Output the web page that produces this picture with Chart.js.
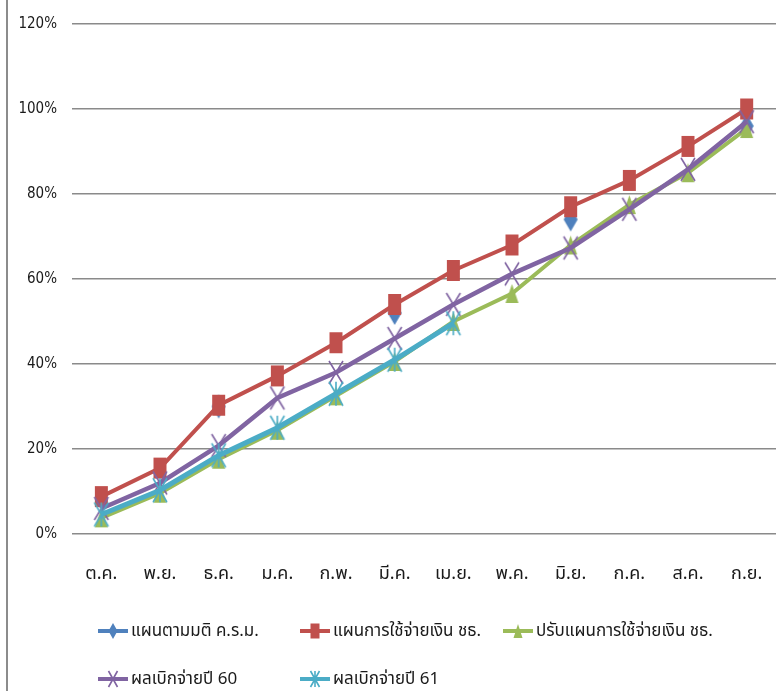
<!DOCTYPE html>
<html><head><meta charset="utf-8">
<script src="https://cdn.jsdelivr.net/npm/chart.js@4"></script>
<style>
html,body{margin:0;padding:0;background:#fff;}
#wrap{position:relative;width:776px;height:691px;overflow:hidden;background:#fff;}
#frame{position:absolute;left:6px;top:0;width:0;height:691px;border-left:2px solid #8c8c8c;}
#c{position:absolute;left:0;top:0;}
.leg{position:absolute;display:flex;align-items:center;height:30px;white-space:nowrap;
 font-family:"Noto Sans Thai","Loma","Garuda","Tlwg Typo","Liberation Sans Narrow","DejaVu Sans Condensed",sans-serif;
 font-size:17px;color:#1a1a1a;}
.leg canvas{margin-right:3px;}
</style></head>
<body><div id="wrap"><canvas id="c" width="776" height="691"></canvas><div id="frame"></div><div id="legend"></div></div>
<script>
// ---- data ----
const months = ['ต.ค.','พ.ย.','ธ.ค.','ม.ค.','ก.พ.','มี.ค.','เม.ย.','พ.ค.','มิ.ย.','ก.ค.','ส.ค.','ก.ย.'];
const yTickValues = [0,20,40,60,80,100,120];
const seriesNames = ['แผนตามมติ ค.ร.ม.','แผนการใช้จ่ายเงิน ชธ.','ปรับแผนการใช้จ่ายเงิน ชธ.','ผลเบิกจ่ายปี 60','ผลเบิกจ่ายปี 61'];
const planCabinet  = [null,null,30,null,null,52,null,null,74,null,null,96];
const planSpending = [8.8,15.5,30.3,37.2,45,54,62,68,77,83.2,91.2,100];
const revisedPlan  = [3.8,9.6,17.6,24.4,32.5,40.6,50,56.6,68,77.5,85,95.4];
const actual60     = [6,12,20.8,32,38,46,54,61.2,67.3,76.4,85.8,97];
const actual61     = [4.6,10.3,18.5,25,33,41,49.6,null,null,null,null,null];

// ---- styles ----
const colors = ['#4F81BD','#C0504D','#9BBB59','#8064A2','#4BACC6'];
const markerKinds = ['diamond','rect','tri','x','star'];
const markerSizes = [[14,24],[13,21],[13,19],[14,23],[14,24]];
const lineWidths = [4,4,4,4.5,5];
const legendMarkerSizes = [[9,16],[9,15],[9,14],[9,16],[9,16]];

function drawMarker(g, kind, cx, cy, w, h, color){
  g.fillStyle = color; g.strokeStyle = color; g.lineWidth = 1.6;
  g.beginPath();
  if(kind==='diamond'){g.moveTo(cx,cy-h/2);g.lineTo(cx+w/2,cy);g.lineTo(cx,cy+h/2);g.lineTo(cx-w/2,cy);g.closePath();g.fill();}
  else if(kind==='rect'){g.fillRect(cx-w/2,cy-h/2,w,h);}
  else if(kind==='tri'){g.moveTo(cx,cy-h/2);g.lineTo(cx+w/2,cy+h/2);g.lineTo(cx-w/2,cy+h/2);g.closePath();g.fill();}
  else if(kind==='x'){g.moveTo(cx-w/2,cy-h/2);g.lineTo(cx+w/2,cy+h/2);g.moveTo(cx+w/2,cy-h/2);g.lineTo(cx-w/2,cy+h/2);g.stroke();}
  else if(kind==='star'){g.moveTo(cx-w/2,cy-h/2);g.lineTo(cx+w/2,cy+h/2);g.moveTo(cx+w/2,cy-h/2);g.lineTo(cx-w/2,cy+h/2);
    g.moveTo(cx,cy-h/2);g.lineTo(cx,cy+h/2);g.stroke();}
}
function markerCanvas(i){
  const [w,h] = markerSizes[i];
  const c = document.createElement('canvas'); c.width = w+4; c.height = h+4;
  drawMarker(c.getContext('2d'), markerKinds[i], c.width/2, c.height/2, w, h, colors[i]);
  return c;
}

const seriesData = [planCabinet, planSpending, revisedPlan, actual60, actual61];
const datasets = seriesData.map((d,i)=>({
  label: seriesNames[i], data: d,
  borderColor: colors[i], backgroundColor: colors[i],
  borderWidth: lineWidths[i], tension: 0, spanGaps: false,
  pointStyle: markerCanvas(i), pointRadius: 8, pointHoverRadius: 8,
  order: 5 - i
}));

const fontThai = '"Noto Sans Thai","Loma","Garuda","Tlwg Typo","Liberation Sans Narrow","DejaVu Sans Condensed",sans-serif';
const fontNum = '"Liberation Sans Narrow","DejaVu Sans Condensed",sans-serif';

new Chart(document.getElementById('c'), {
  type: 'line',
  data: { labels: months, datasets },
  options: {
    responsive: false, animation: false, devicePixelRatio: 1,
    layout: { autoPadding: false, padding: { top: 22, left: 0, right: 0, bottom: 97 } },
    plugins: { legend: { display: false }, tooltip: { enabled: false } },
    scales: {
      x: {
        offset: true,
        grid: { display: false, drawTicks: false },
        border: { display: false },
        ticks: { color: '#1a1a1a', padding: 31, font: { family: fontThai, size: 18 }, maxRotation: 0, autoSkip: false },
        afterFit(s){ s.height = 60; s.paddingLeft = 0; s.paddingRight = 0; }
      },
      y: {
        min: 0, max: 120,
        afterBuildTicks(s){ s.ticks = yTickValues.map(v=>({value:v})); },
        grid: { color: '#8a8a8a', lineWidth: 1.5, drawTicks: false },
        border: { display: false },
        ticks: { color: '#1a1a1a', padding: 15, font: { family: fontNum, size: 15 }, callback: v => v + '%' },
        afterFit(s){ s.width = 72; }
      }
    }
  }
});

// ---- legend (HTML, grid like Excel) ----
const legCols = [98, 300, 503];
const legRows = [631, 679];
const legend = document.getElementById('legend');
seriesNames.forEach((name,i)=>{
  const div = document.createElement('div'); div.className = 'leg';
  div.style.left = legCols[i%3] + 'px';
  div.style.top = (legRows[Math.floor(i/3)] - 15) + 'px';
  const c = document.createElement('canvas'); c.width = 30; c.height = 22;
  const g = c.getContext('2d');
  g.strokeStyle = colors[i]; g.lineWidth = 4; g.beginPath(); g.moveTo(0,11); g.lineTo(30,11); g.stroke();
  const [w,h] = legendMarkerSizes[i];
  drawMarker(g, markerKinds[i], 15, 11, w, h, colors[i]);
  const span = document.createElement('span'); span.textContent = name;
  div.appendChild(c); div.appendChild(span);
  legend.appendChild(div);
});
</script>
</body></html>
